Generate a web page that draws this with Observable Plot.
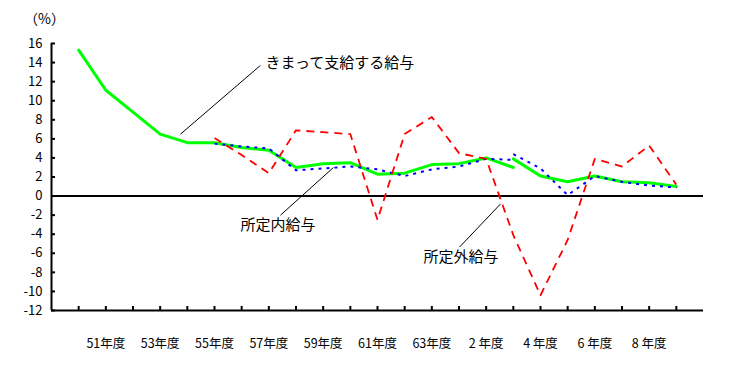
<!DOCTYPE html>
<html>
<head>
<meta charset="utf-8">
<script src="https://cdn.jsdelivr.net/npm/d3@7"></script>
<script src="https://cdn.jsdelivr.net/npm/@observablehq/plot@0.6"></script>
<style>
  html, body { margin: 0; padding: 0; background: #fff; }
  svg { display: block; }
</style>
</head>
<body>
<div id="chart"></div>
<script>
// Fiscal years 昭和50年度 (1975) … 平成9年度 (1997)
const years = d3.range(1975, 1998);

// きまって支給する給与 (green): old series 1975–1991, new series 1991–1997
const kimatteOldYears = d3.range(1975, 1992);
const kimatteOld = [15.3, 11.1, 8.8, 6.5, 5.6, 5.6, 5.1, 4.8, 3.0, 3.4, 3.5, 2.3, 2.4, 3.3, 3.4, 4.0, 3.0];
const kimatteNewYears = d3.range(1991, 1998);
const kimatteNew = [3.9, 2.1, 1.5, 2.1, 1.5, 1.4, 1.0];

// 所定内給与 (blue dotted)
const naiOldYears = d3.range(1980, 1992);
const naiOld = [5.5, 5.2, 5.0, 2.7, 2.9, 3.1, 2.8, 2.1, 2.8, 3.1, 3.9, 3.8];
const naiNewYears = d3.range(1991, 1998);
const naiNew = [4.4, 2.9, 0.1, 2.1, 1.5, 1.1, 0.9];

// 所定外給与 (red dashed)
const gaiYears = d3.range(1980, 1998);
const gai = [6.1, 4.3, 2.4, 6.9, 6.7, 6.5, -2.5, 6.5, 8.3, 4.5, 3.9, -4.1, -10.4, -4.6, 3.9, 3.1, 5.3, 1.2];

// axes
const yTicks = d3.range(-12, 17, 2);
const xTickYears = d3.range(1975, 1998);
const xLabelYears = [1976, 1978, 1980, 1982, 1984, 1986, 1988, 1990, 1992, 1994, 1996];
const xLabels = ["51年度", "53年度", "55年度", "57年度", "59年度", "61年度", "63年度", "2 年度", "4 年度", "6 年度", "8 年度"];

// annotations: label position and leader line (data units)
const annotations = [
  {label: "きまって支給する給与", tx: 1981.88, ty: 13.9, x1: 1978.75, y1: 6.5, x2: 1981.69, y2: 13.7},
  {label: "所定内給与", tx: 1980.96, ty: -3.1, x1: 1982.43, y1: -2.0, x2: 1984.38, y2: 3.0},
  {label: "所定外給与", tx: 1987.69, ty: -6.4, x1: 1989.02, y1: -5.35, x2: 1990.53, y2: -0.82}
];

const toRows = (ys, vs, seg) => ys.map((y, i) => ({year: y, value: vs[i], seg}));
const greenRows = [...toRows(kimatteOldYears, kimatteOld, "old"), ...toRows(kimatteNewYears, kimatteNew, "new")];
const blueRows = [...toRows(naiOldYears, naiOld, "old"), ...toRows(naiNewYears, naiNew, "new")];
const redRows = toRows(gaiYears, gai, "all");

const chart = Plot.plot({
  width: 729,
  height: 365,
  marginLeft: 51,
  marginRight: 26,
  marginTop: 43,
  marginBottom: 55,
  x: {domain: [1974, 1998]},
  y: {domain: [-12, 16]},
  style: {fontFamily: "'Noto Sans CJK JP', sans-serif", fontSize: "12px", background: "#fff", color: "#000", overflow: "visible"},
  marks: [
    Plot.axisY({ticks: yTicks, tickSize: -4, tickPadding: 13, strokeWidth: 2, tickFormat: d => String(d), label: null, fontSize: 13}),
    Plot.axisX({ticks: xTickYears, tickSize: -4, tickPadding: 0, strokeWidth: 2, tickFormat: () => "", label: null}),
    Plot.axisX({ticks: xLabelYears, tickSize: 0, tickPadding: 29, tickFormat: d => xLabels[xLabelYears.indexOf(d)], label: null, fontSize: 12.5}),
    Plot.ruleX([1974], {stroke: "#000", strokeWidth: 2}),
    Plot.ruleY([-12], {stroke: "#000", strokeWidth: 2}),
    Plot.ruleY([0], {stroke: "#000", strokeWidth: 2}),
    Plot.line(greenRows, {x: "year", y: "value", z: "seg", stroke: "#00ff00", strokeWidth: 3, curve: "linear"}),
    Plot.line(blueRows, {x: "year", y: "value", z: "seg", stroke: "#0000ff", strokeWidth: 2, strokeDasharray: "3,5", strokeLinecap: "butt"}),
    Plot.line(redRows, {x: "year", y: "value", z: "seg", stroke: "#ff0000", strokeWidth: 1.8, strokeDasharray: "8,6", strokeLinecap: "butt"}),
    Plot.link(annotations, {x1: "x1", y1: "y1", x2: "x2", y2: "y2", stroke: "#000", strokeWidth: 1}),
    Plot.text(annotations, {x: "tx", y: "ty", text: "label", textAnchor: "start", lineAnchor: "middle", fontSize: 15, fill: "#000"}),
    Plot.text(["（%）"], {frameAnchor: "top-left", dx: -7, dy: -24, textAnchor: "middle", lineAnchor: "middle", fontSize: 14, fill: "#000"})
  ]
});
document.getElementById("chart").appendChild(chart);
</script>
</body>
</html>
